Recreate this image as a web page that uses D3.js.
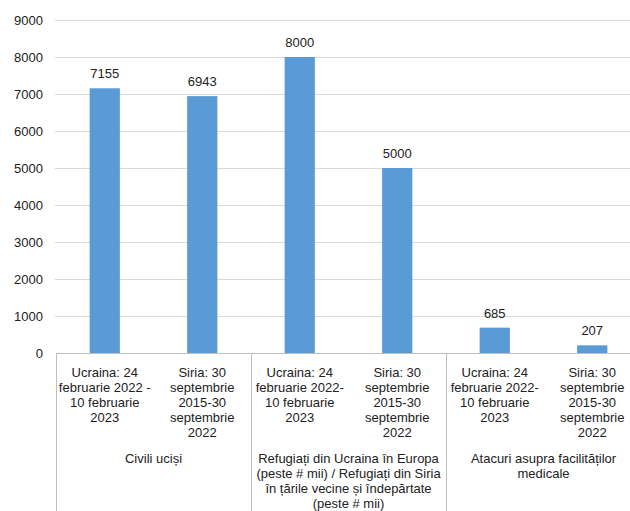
<!DOCTYPE html>
<html><head><meta charset="utf-8">
<script src="https://cdn.jsdelivr.net/npm/d3@7"></script>
<style>
body{margin:0;background:#fff;}
svg{display:block;font-family:"Liberation Sans",Arial,sans-serif;}
</style></head>
<body><svg id="c" width="630" height="511"></svg>
<script>
const categories = [
  ["Ucraina: 24","februarie 2022 -","10 februarie","2023"],
  ["Siria: 30","septembrie","2015-30","septembrie","2022"],
  ["Ucraina: 24","februarie 2022-","10 februarie","2023"],
  ["Siria: 30","septembrie","2015-30","septembrie","2022"],
  ["Ucraina: 24","februarie 2022-","10 februarie","2023"],
  ["Siria: 30","septembrie","2015-30","septembrie","2022"]
];
const values = [7155, 6943, 8000, 5000, 685, 207];
const groups = [
  ["Civili uciși"],
  ["Refugiați din Ucraina în Europa","(peste # mii) / Refugiați din Siria","în țările vecine și îndepărtate","(peste # mii)"],
  ["Atacuri asupra facilităților","medicale"]
];
const yTicks = [0,1000,2000,3000,4000,5000,6000,7000,8000,9000];

const svg = d3.select("#c");
const mL = 56, mR = 641, mT = 20, mB = 353;
const FS = "13px";
const x = d3.scaleBand().domain(d3.range(values.length)).range([mL,mR]).paddingInner(0.69).paddingOuter(0.345);
const xg = d3.scaleBand().domain(d3.range(groups.length)).range([mL,mR]).padding(0);
const y = d3.scaleLinear().domain([0,9000]).range([mB,mT]);

// grid + y axis
const ya = svg.append("g").attr("transform",`translate(${mL-1},0)`)
  .call(d3.axisLeft(y).tickValues(yTicks).tickSize(-(mR-mL+1)).tickFormat(d3.format("d")).tickPadding(12));
ya.select(".domain").remove();
ya.selectAll(".tick line").attr("stroke","#d9d9d9").attr("stroke-width",1);
ya.selectAll(".tick text").attr("fill","#222").style("font-size",FS).style("font-family","'Liberation Sans',Arial,sans-serif");
ya.selectAll(".tick").filter(d=>d===0).select("line").remove();

// bars
svg.append("g").selectAll("rect").data(values).join("rect")
  .attr("x",(d,i)=>x(i)).attr("width",x.bandwidth())
  .attr("y",d=>y(d)).attr("height",d=>mB-y(d))
  .attr("fill","#5b9bd5");

// value labels
svg.append("g").selectAll("text").data(values).join("text")
  .attr("x",(d,i)=>x(i)+x.bandwidth()/2).attr("y",d=>y(d)-10)
  .attr("text-anchor","middle").attr("fill","#222").style("font-size",FS)
  .text(d=>d);

// x axis line and group separators
const ax = svg.append("g");
ax.append("line").attr("x1",mL).attr("x2",mR).attr("y1",mB+0.5).attr("y2",mB+0.5).attr("stroke","#bfbfbf");
ax.selectAll("line.sep").data(d3.range(groups.length+1)).join("line").attr("class","sep")
  .attr("x1",i=>Math.round(i<groups.length?xg(i):mR)+0.5).attr("x2",i=>Math.round(i<groups.length?xg(i):mR)+0.5)
  .attr("y1",mB).attr("y2",511).attr("stroke","#bfbfbf");

// category labels
const cl = svg.append("g").selectAll("text").data(categories).join("text")
  .attr("text-anchor","middle").attr("fill","#222").style("font-size",FS);
cl.each(function(lines,i){
  d3.select(this).selectAll("tspan").data(lines).join("tspan")
    .attr("x",x(i)+x.bandwidth()/2).attr("y",(d,j)=>377+j*15).text(d=>d);
});

// group labels
const gl = svg.append("g").selectAll("text").data(groups).join("text")
  .attr("text-anchor","middle").attr("fill","#222").style("font-size",FS);
gl.each(function(lines,i){
  d3.select(this).selectAll("tspan").data(lines).join("tspan")
    .attr("x",xg(i)+xg.bandwidth()/2).attr("y",(d,j)=>463+j*15).text(d=>d);
});
</script></body></html>
